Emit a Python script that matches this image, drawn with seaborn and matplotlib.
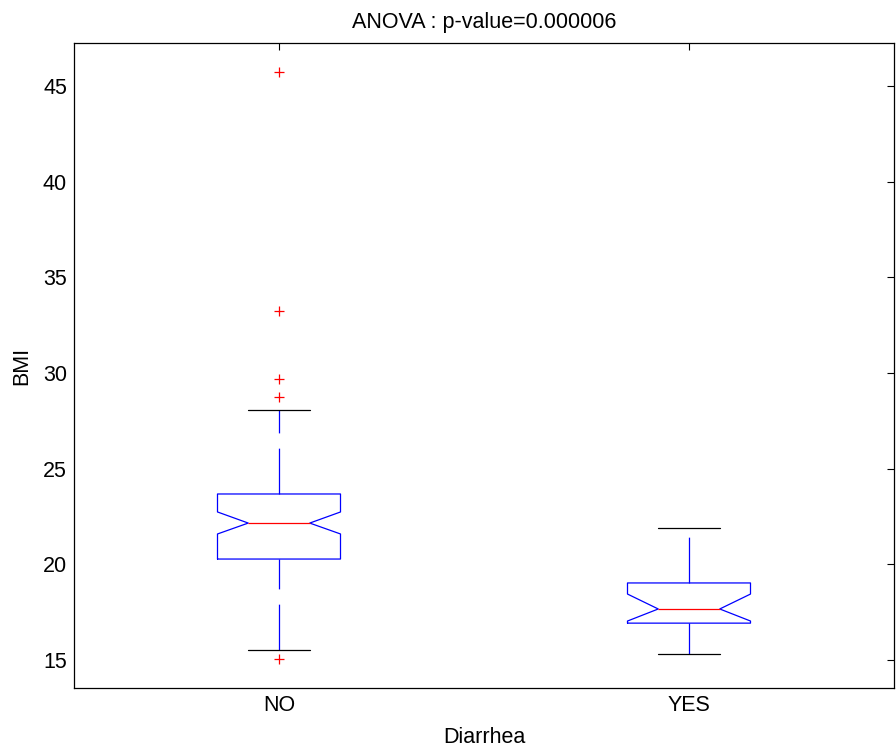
import matplotlib
matplotlib.use("Agg")
import matplotlib.pyplot as plt
import seaborn as sns

# Box statistics
groups = ["NO", "YES"]
q1 = [20.28, 16.93]
median = [22.16, 17.67]
q3 = [23.68, 19.03]
notch_lo = [21.59, 17.04]
notch_hi = [22.74, 18.45]
whisker_lo = [15.52, 15.31]
whisker_hi = [28.07, 21.90]

outlier_group = ["NO", "NO", "NO", "NO", "NO"]
outlier_bmi = [45.72, 33.24, 29.69, 28.75, 15.05]

sns.set_style("white")
plt.rcParams["font.family"] = ["Liberation Sans", "DejaVu Sans"]
plt.rcParams["lines.scale_dashes"] = False
plt.rcParams["text.color"] = "black"
plt.rcParams["axes.labelcolor"] = "black"

fig = plt.figure(figsize=(8.96, 7.51), dpi=100)
ax = fig.add_axes([74 / 896, 63 / 751, 820 / 896, 645 / 751])

stats = []
for i, g in enumerate(groups):
    stats.append(dict(label=g, q1=q1[i], med=median[i], q3=q3[i],
                      cilo=notch_lo[i], cihi=notch_hi[i],
                      whislo=whisker_lo[i], whishi=whisker_hi[i], fliers=[]))

parts = ax.bxp(stats, positions=range(len(groups)), widths=0.3, shownotches=True,
               boxprops=dict(color="blue", linewidth=0.9),
               whiskerprops=dict(color="blue", linewidth=0.9, linestyle=(0, (33, 11))),
               capprops=dict(color="black", linewidth=0.9),
               medianprops=dict(color="red", linewidth=0.9),
               showfliers=False)

# matlab draws the lower whisker starting from the cap
for i in range(len(groups)):
    w = parts["whiskers"][2 * i]
    w.set_ydata(list(w.get_ydata())[::-1])

sns.stripplot(x=outlier_group, y=outlier_bmi, order=groups, ax=ax, jitter=False,
              marker="+", color="red", size=7, linewidth=0.9)

ax.set_xlim(-0.5, 1.5)
ax.set_ylim(13.54, 47.25)
ax.set_yticks([15, 20, 25, 30, 35, 40, 45])
ax.set_xticks(range(len(groups)))
ax.set_xticklabels(groups)
ax.tick_params(direction="in", length=5, width=0.8, top=True, right=True,
               labelsize=15.5, colors="black", pad=5)
for s in ax.spines.values():
    s.set_color("black")
    s.set_linewidth(0.9)

ax.set_title("ANOVA : p-value=0.000006", fontsize=15.5, pad=11, color="black")
ax.set_xlabel("Diarrhea", fontsize=15.5, labelpad=8)
ax.set_ylabel("BMI", fontsize=15.5, labelpad=8)

fig.savefig("out.png", dpi=100)
